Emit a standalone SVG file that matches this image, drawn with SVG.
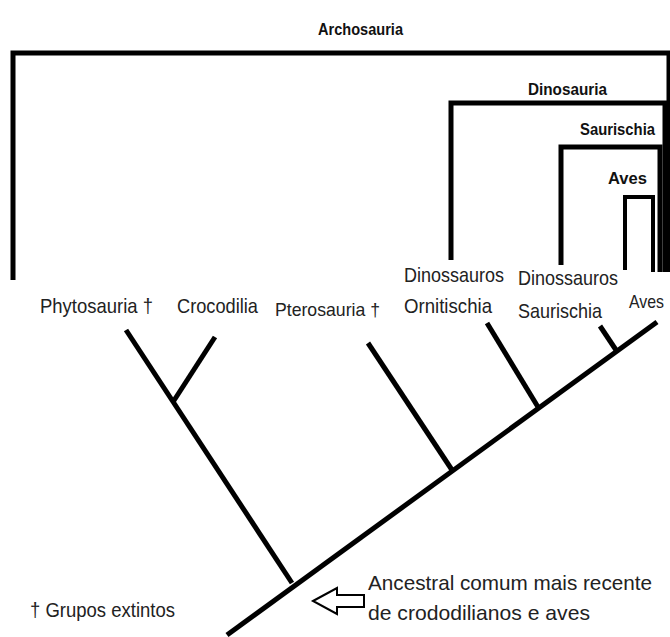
<svg xmlns="http://www.w3.org/2000/svg" width="670" height="637" viewBox="0 0 670 637">
<style>
.br{fill:none;stroke:#000;stroke-width:5;stroke-linejoin:miter;stroke-linecap:butt}
.tr{fill:none;stroke:#000;stroke-width:5;stroke-linecap:butt}
.hd{font-family:"Liberation Sans Narrow","Liberation Sans",Arial,sans-serif;font-size:17px;font-weight:bold;fill:#111}
.lb{font-family:"Liberation Sans Narrow","Liberation Sans",Arial,sans-serif;font-size:21px;fill:#222}
.sm{font-family:"Liberation Sans Narrow","Liberation Sans",Arial,sans-serif;font-size:19px;fill:#222}
</style>
<rect width="670" height="637" fill="#fff"/>
<g id="clade-archosauria">
<path class="br" d="M13,280 V53 H669 V272"/>
<text class="hd" x="318" y="35" textLength="85" lengthAdjust="spacingAndGlyphs">Archosauria</text>
</g>
<g id="clade-dinosauria">
<path class="br" d="M451,260 V103 H665 V272"/>
<text class="hd" x="528" y="95" textLength="79" lengthAdjust="spacingAndGlyphs">Dinosauria</text>
</g>
<g id="clade-saurischia">
<path class="br" d="M561,265 V147 H660 V272"/>
<text class="hd" x="580" y="135" textLength="75" lengthAdjust="spacingAndGlyphs">Saurischia</text>
</g>
<g id="clade-aves">
<path class="br" d="M625,270 V197 H653 V272" style="stroke-width:4"/>
<text class="hd" x="608" y="184" textLength="39" lengthAdjust="spacingAndGlyphs">Aves</text>
</g>
<g id="connectors">
<line class="tr" x1="227" y1="635" x2="657" y2="322"/>
<line class="tr" x1="292" y1="583" x2="126" y2="330"/>
<line class="tr" x1="173" y1="402" x2="215" y2="337"/>
<line class="tr" x1="452" y1="470" x2="368" y2="343"/>
<line class="tr" x1="538" y1="407" x2="487" y2="323"/>
<line class="tr" x1="616" y1="350" x2="600" y2="326"/>
</g>
<g id="leaf-phytosauria">
<text class="lb" x="40" y="313" textLength="113" lengthAdjust="spacingAndGlyphs">Phytosauria †</text>
</g>
<g id="leaf-crocodilia">
<text class="lb" x="177" y="313" textLength="81" lengthAdjust="spacingAndGlyphs">Crocodilia</text>
</g>
<g id="leaf-pterosauria">
<text class="sm" x="275" y="316" textLength="105" lengthAdjust="spacingAndGlyphs">Pterosauria †</text>
</g>
<g id="leaf-ornitischia">
<text class="lb" x="404" y="282" textLength="100" lengthAdjust="spacingAndGlyphs">Dinossauros</text>
<text class="lb" x="404" y="313" textLength="88" lengthAdjust="spacingAndGlyphs">Ornitischia</text>
</g>
<g id="leaf-saurischia">
<text class="lb" x="518" y="285" textLength="100" lengthAdjust="spacingAndGlyphs">Dinossauros</text>
<text class="lb" x="518" y="318" textLength="84" lengthAdjust="spacingAndGlyphs">Saurischia</text>
</g>
<g id="leaf-aves">
<text class="sm" x="629" y="308" textLength="35" lengthAdjust="spacingAndGlyphs">Aves</text>
</g>
<g id="ancestor-note">
<path d="M313,601 L337,588 V595 H364 V607 H337 V614 Z" fill="#fff" stroke="#000" stroke-width="2" stroke-linejoin="miter"/>
<text class="lb" x="368" y="590" textLength="284" lengthAdjust="spacingAndGlyphs">Ancestral comum mais recente</text>
<text class="lb" x="368" y="620" textLength="222" lengthAdjust="spacingAndGlyphs">de crododilianos e aves</text>
</g>
<g id="legend">
<text class="lb" x="30" y="617" textLength="145" lengthAdjust="spacingAndGlyphs">† Grupos extintos</text>
</g>
</svg>
